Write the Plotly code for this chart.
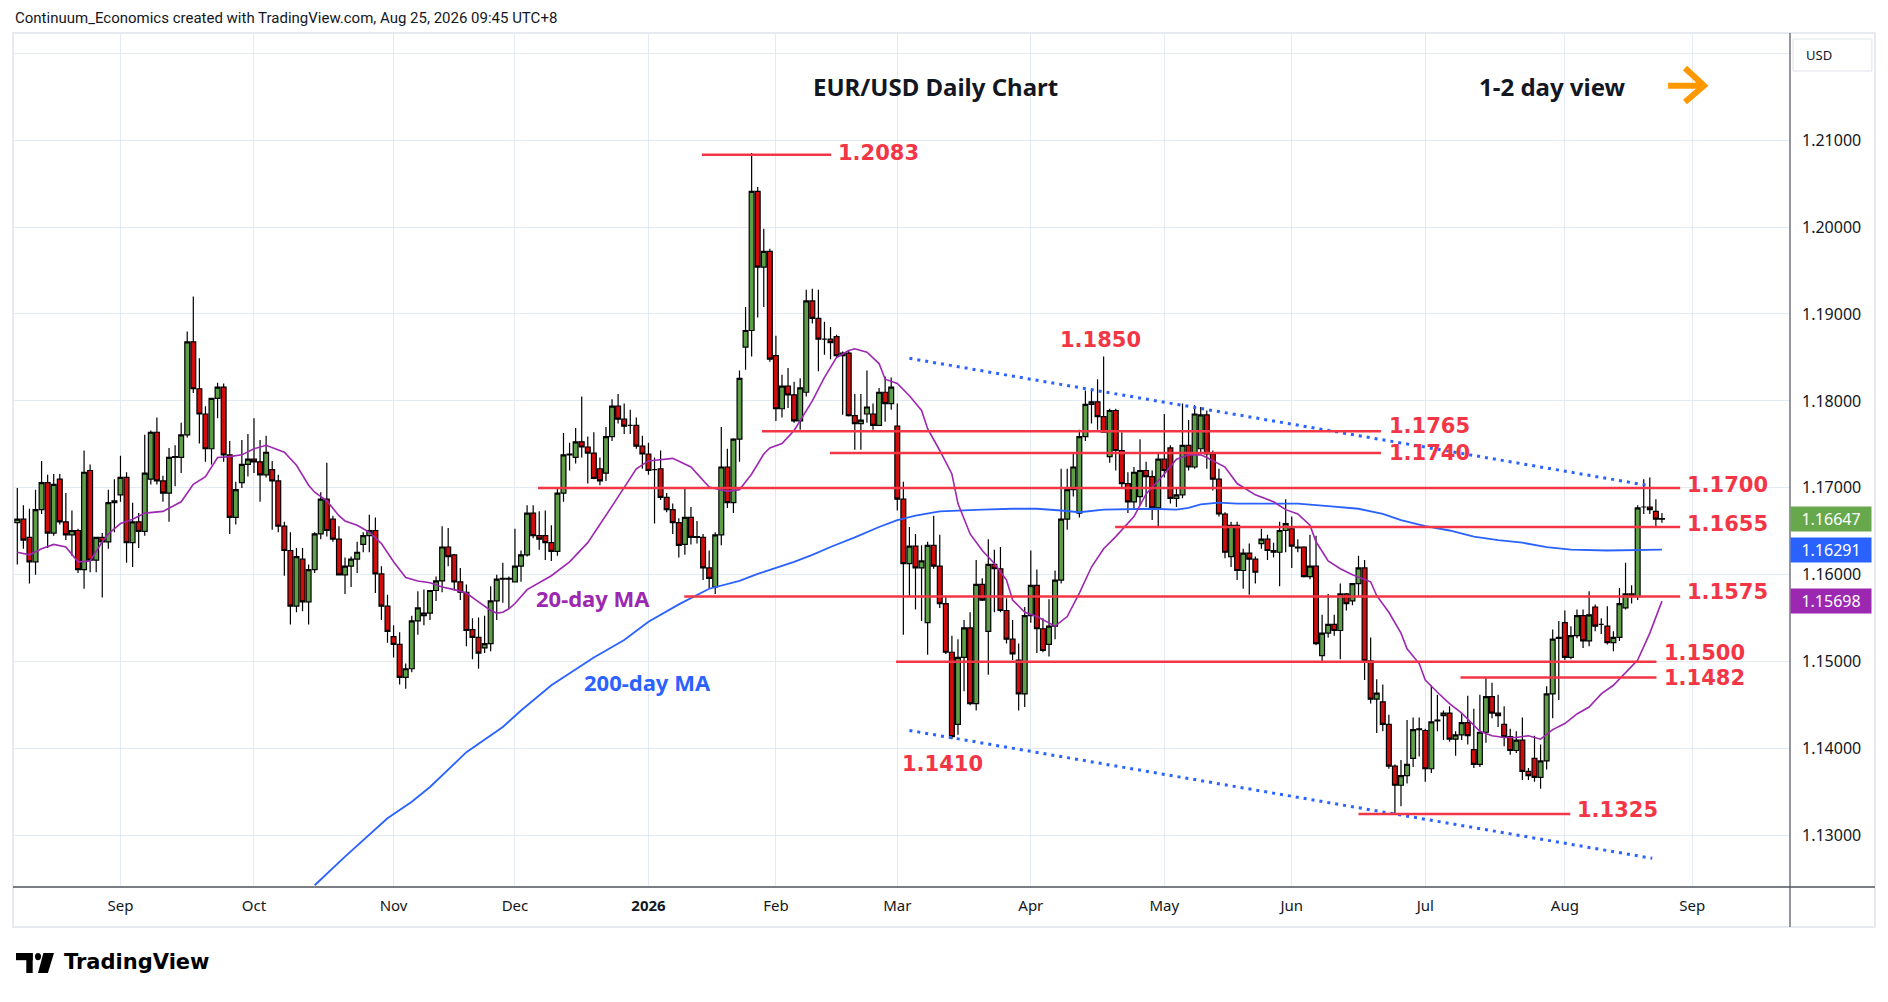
import pandas as pd
import plotly.graph_objects as go

# FX trading days on the chart (no bars on these two)
HOLIDAYS = ["2025-12-25", "2026-01-01"]
all_days = pd.bdate_range("2025-08-07", "2026-09-30", freq="C", holidays=HOLIDAYS)

# EUR/USD daily candles, Aug 7 2025 .. Aug 25 2026
opens = [
    1.1660, 1.1664, 1.1643, 1.1615, 1.1675, 1.1706, 1.1648, 1.1710, 1.1661, 1.1646,
    1.1651, 1.1606, 1.1720, 1.1617, 1.1643, 1.1638, 1.1683, 1.1692, 1.1712, 1.1637,
    1.1661, 1.1650, 1.1710, 1.1764, 1.1708, 1.1694, 1.1735, 1.1735, 1.1761, 1.1868,
    1.1814, 1.1785, 1.1745, 1.1803, 1.1816, 1.1738, 1.1666, 1.1706, 1.1727, 1.1733,
    1.1730, 1.1715, 1.1721, 1.1708, 1.1656, 1.1628, 1.1564, 1.1618, 1.1569, 1.1606,
    1.1647, 1.1687, 1.1664, 1.1641, 1.1600, 1.1610, 1.1618, 1.1635, 1.1645, 1.1651,
    1.1601, 1.1564, 1.1529, 1.1520, 1.1482, 1.1492, 1.1547, 1.1553, 1.1556, 1.1582,
    1.1593, 1.1632, 1.1623, 1.1592, 1.1580, 1.1537, 1.1528, 1.1516, 1.1521, 1.1570,
    1.1595, 1.1596, 1.1592, 1.1610, 1.1623, 1.1671, 1.1645, 1.1645, 1.1637, 1.1627,
    1.1694, 1.1738, 1.1735, 1.1753, 1.1747, 1.1740, 1.1722, 1.1717, 1.1759, 1.1794,
    1.1779, 1.1772, 1.1772, 1.1748, 1.1739, 1.1721, 1.1722, 1.1689, 1.1675, 1.1660,
    1.1635, 1.1666, 1.1644, 1.1643, 1.1608, 1.1586, 1.1646, 1.1724, 1.1683, 1.1756,
    1.1862, 1.1881, 1.2041, 1.1954, 1.1972, 1.1852, 1.1791, 1.1817, 1.1807, 1.1777,
    1.1810, 1.1915, 1.1895, 1.1871, 1.1871, 1.1874, 1.1852, 1.1855, 1.1783, 1.1774,
    1.1785, 1.1785, 1.1772, 1.1810, 1.1797, 1.1771, 1.1687, 1.1613, 1.1633, 1.1608,
    1.1545, 1.1634, 1.1610, 1.1567, 1.1511, 1.1428, 1.1505, 1.1539, 1.1452, 1.1589,
    1.1535, 1.1612, 1.1607, 1.1559, 1.1526, 1.1502, 1.1463, 1.1553, 1.1588, 1.1538,
    1.1520, 1.1541, 1.1594, 1.1664, 1.1698, 1.1671, 1.1759, 1.1796, 1.1799, 1.1782,
    1.1736, 1.1789, 1.1743, 1.1705, 1.1684, 1.1690, 1.1720, 1.1713, 1.1677, 1.1733,
    1.1746, 1.1688, 1.1692, 1.1749, 1.1724, 1.1745, 1.1784, 1.1739, 1.1710, 1.1670,
    1.1621, 1.1657, 1.1605, 1.1625, 1.1618, 1.1636, 1.1641, 1.1628, 1.1626, 1.1651,
    1.1653, 1.1632, 1.1632, 1.1598, 1.1610, 1.1507, 1.1533, 1.1543, 1.1536, 1.1578,
    1.1570, 1.1590, 1.1608, 1.1501, 1.1457, 1.1454, 1.1428, 1.1380, 1.1358, 1.1369,
    1.1389, 1.1422, 1.1421, 1.1377, 1.1432, 1.1438, 1.1441, 1.1411, 1.1416, 1.1430,
    1.1399, 1.1382, 1.1419, 1.1460, 1.1441, 1.1428, 1.1414, 1.1398, 1.1410, 1.1374,
    1.1389, 1.1367, 1.1386, 1.1463, 1.1527, 1.1545, 1.1505, 1.1530, 1.1553, 1.1524,
    1.1563, 1.1543, 1.1541, 1.1522, 1.1528, 1.1562, 1.1578, 1.1575, 1.1678, 1.1678,
    1.1673, 1.1664,
]
highs = [
    1.1700, 1.1680, 1.1676, 1.1698, 1.1731, 1.1715, 1.1716, 1.1716, 1.1694, 1.1674,
    1.1653, 1.1743, 1.1727, 1.1643, 1.1648, 1.1698, 1.1710, 1.1737, 1.1718, 1.1683,
    1.1671, 1.1761, 1.1766, 1.1781, 1.1714, 1.1746, 1.1749, 1.1775, 1.1880, 1.1920,
    1.1849, 1.1794, 1.1803, 1.1821, 1.1820, 1.1754, 1.1707, 1.1755, 1.1762, 1.1780,
    1.1755, 1.1760, 1.1731, 1.1715, 1.1661, 1.1649, 1.1631, 1.1631, 1.1612, 1.1649,
    1.1695, 1.1729, 1.1668, 1.1656, 1.1620, 1.1621, 1.1638, 1.1649, 1.1669, 1.1666,
    1.1610, 1.1577, 1.1542, 1.1534, 1.1498, 1.1553, 1.1581, 1.1583, 1.1582, 1.1598,
    1.1656, 1.1654, 1.1624, 1.1608, 1.1589, 1.1550, 1.1551, 1.1553, 1.1587, 1.1600,
    1.1614, 1.1598, 1.1653, 1.1628, 1.1680, 1.1680, 1.1673, 1.1674, 1.1657, 1.1699,
    1.1763, 1.1752, 1.1769, 1.1805, 1.1759, 1.1764, 1.1735, 1.1770, 1.1802, 1.1808,
    1.1797, 1.1790, 1.1781, 1.1760, 1.1752, 1.1735, 1.1743, 1.1694, 1.1682, 1.1665,
    1.1700, 1.1678, 1.1662, 1.1647, 1.1628, 1.1649, 1.1770, 1.1745, 1.1757, 1.1835,
    1.1908, 1.2085, 1.2046, 1.1998, 1.1975, 1.1875, 1.1830, 1.1838, 1.1822, 1.1826,
    1.1928, 1.1929, 1.1928, 1.1891, 1.1885, 1.1876, 1.1857, 1.1858, 1.1808, 1.1808,
    1.1835, 1.1797, 1.1815, 1.1828, 1.1827, 1.1797, 1.1707, 1.1655, 1.1647, 1.1634,
    1.1638, 1.1668, 1.1646, 1.1575, 1.1530, 1.1526, 1.1548, 1.1557, 1.1617, 1.1596,
    1.1641, 1.1629, 1.1632, 1.1573, 1.1548, 1.1521, 1.1563, 1.1628, 1.1606, 1.1550,
    1.1572, 1.1605, 1.1722, 1.1722, 1.1740, 1.1767, 1.1812, 1.1812, 1.1825, 1.1851,
    1.1791, 1.1791, 1.1764, 1.1718, 1.1724, 1.1756, 1.1730, 1.1720, 1.1741, 1.1785,
    1.1749, 1.1700, 1.1797, 1.1778, 1.1795, 1.1793, 1.1789, 1.1743, 1.1722, 1.1672,
    1.1661, 1.1661, 1.1630, 1.1636, 1.1621, 1.1653, 1.1646, 1.1637, 1.1661, 1.1687,
    1.1667, 1.1641, 1.1633, 1.1646, 1.1645, 1.1554, 1.1578, 1.1554, 1.1590, 1.1579,
    1.1590, 1.1622, 1.1617, 1.1528, 1.1480, 1.1474, 1.1439, 1.1382, 1.1387, 1.1433,
    1.1436, 1.1436, 1.1423, 1.1473, 1.1462, 1.1444, 1.1449, 1.1420, 1.1440, 1.1461,
    1.1446, 1.1462, 1.1482, 1.1476, 1.1462, 1.1449, 1.1423, 1.1420, 1.1436, 1.1378,
    1.1415, 1.1405, 1.1472, 1.1537, 1.1547, 1.1559, 1.1541, 1.1560, 1.1560, 1.1581,
    1.1566, 1.1550, 1.1564, 1.1535, 1.1585, 1.1614, 1.1588, 1.1680, 1.1710, 1.1712,
    1.1687, 1.1671,
]
lows = [
    1.1612, 1.1630, 1.1590, 1.1600, 1.1670, 1.1631, 1.1645, 1.1658, 1.1640, 1.1622,
    1.1602, 1.1584, 1.1603, 1.1603, 1.1574, 1.1630, 1.1649, 1.1684, 1.1614, 1.1609,
    1.1631, 1.1645, 1.1704, 1.1704, 1.1684, 1.1661, 1.1702, 1.1717, 1.1758, 1.1809,
    1.1751, 1.1730, 1.1727, 1.1780, 1.1730, 1.1647, 1.1658, 1.1700, 1.1713, 1.1717,
    1.1684, 1.1712, 1.1652, 1.1649, 1.1599, 1.1543, 1.1557, 1.1558, 1.1543, 1.1602,
    1.1641, 1.1644, 1.1638, 1.1600, 1.1578, 1.1586, 1.1602, 1.1626, 1.1626, 1.1579,
    1.1548, 1.1522, 1.1505, 1.1474, 1.1469, 1.1488, 1.1531, 1.1542, 1.1548, 1.1570,
    1.1580, 1.1610, 1.1582, 1.1571, 1.1518, 1.1503, 1.1492, 1.1510, 1.1512, 1.1548,
    1.1568, 1.1561, 1.1592, 1.1592, 1.1621, 1.1642, 1.1629, 1.1617, 1.1616, 1.1622,
    1.1684, 1.1720, 1.1728, 1.1735, 1.1705, 1.1710, 1.1703, 1.1708, 1.1754, 1.1774,
    1.1762, 1.1762, 1.1745, 1.1722, 1.1715, 1.1659, 1.1686, 1.1672, 1.1647, 1.1620,
    1.1623, 1.1635, 1.1636, 1.1594, 1.1585, 1.1578, 1.1634, 1.1677, 1.1671, 1.1730,
    1.1836, 1.1851, 1.1896, 1.1908, 1.1845, 1.1777, 1.1781, 1.1792, 1.1775, 1.1767,
    1.1805, 1.1889, 1.1834, 1.1853, 1.1848, 1.1850, 1.1784, 1.1782, 1.1744, 1.1744,
    1.1775, 1.1767, 1.1772, 1.1776, 1.1790, 1.1674, 1.1531, 1.1576, 1.1560, 1.1547,
    1.1508, 1.1607, 1.1562, 1.1509, 1.1411, 1.1416, 1.1466, 1.1450, 1.1444, 1.1570,
    1.1485, 1.1557, 1.1557, 1.1521, 1.1502, 1.1444, 1.1448, 1.1545, 1.1510, 1.1511,
    1.1506, 1.1526, 1.1590, 1.1652, 1.1690, 1.1666, 1.1754, 1.1774, 1.1767, 1.1764,
    1.1729, 1.1720, 1.1700, 1.1671, 1.1676, 1.1680, 1.1678, 1.1663, 1.1656, 1.1712,
    1.1682, 1.1678, 1.1688, 1.1720, 1.1722, 1.1740, 1.1722, 1.1697, 1.1667, 1.1619,
    1.1609, 1.1594, 1.1584, 1.1577, 1.1590, 1.1630, 1.1617, 1.1620, 1.1587, 1.1626,
    1.1608, 1.1626, 1.1597, 1.1595, 1.1519, 1.1501, 1.1528, 1.1530, 1.1503, 1.1559,
    1.1565, 1.1576, 1.1479, 1.1452, 1.1418, 1.1420, 1.1377, 1.1325, 1.1334, 1.1360,
    1.1379, 1.1391, 1.1362, 1.1372, 1.1420, 1.1410, 1.1408, 1.1392, 1.1410, 1.1405,
    1.1378, 1.1379, 1.1407, 1.1435, 1.1425, 1.1403, 1.1393, 1.1395, 1.1364, 1.1364,
    1.1362, 1.1354, 1.1376, 1.1435, 1.1456, 1.1502, 1.1503, 1.1527, 1.1516, 1.1518,
    1.1535, 1.1532, 1.1520, 1.1512, 1.1524, 1.1560, 1.1567, 1.1571, 1.1670, 1.1670,
    1.1656, 1.1660,
]
closes = [
    1.1664, 1.1640, 1.1615, 1.1675, 1.1706, 1.1648, 1.1704, 1.1661, 1.1646, 1.1651,
    1.1606, 1.1718, 1.1617, 1.1643, 1.1638, 1.1683, 1.1685, 1.1712, 1.1637, 1.1661,
    1.1650, 1.1717, 1.1764, 1.1708, 1.1694, 1.1735, 1.1736, 1.1761, 1.1868, 1.1814,
    1.1785, 1.1745, 1.1803, 1.1816, 1.1738, 1.1666, 1.1698, 1.1727, 1.1733, 1.1730,
    1.1715, 1.1741, 1.1708, 1.1656, 1.1628, 1.1564, 1.1621, 1.1569, 1.1606, 1.1647,
    1.1687, 1.1651, 1.1641, 1.1600, 1.1610, 1.1618, 1.1626, 1.1645, 1.1651, 1.1601,
    1.1564, 1.1535, 1.1520, 1.1482, 1.1492, 1.1547, 1.1562, 1.1556, 1.1582, 1.1593,
    1.1632, 1.1621, 1.1592, 1.1580, 1.1536, 1.1528, 1.1510, 1.1521, 1.1570, 1.1595,
    1.1596, 1.1595, 1.1610, 1.1623, 1.1671, 1.1645, 1.1641, 1.1637, 1.1627, 1.1694,
    1.1738, 1.1739, 1.1753, 1.1747, 1.1740, 1.1711, 1.1708, 1.1759, 1.1794, 1.1779,
    1.1771, 1.1772, 1.1748, 1.1739, 1.1720, 1.1721, 1.1689, 1.1675, 1.1660, 1.1634,
    1.1666, 1.1643, 1.1643, 1.1608, 1.1596, 1.1646, 1.1724, 1.1683, 1.1756, 1.1826,
    1.1881, 1.2041, 1.1954, 1.1972, 1.1848, 1.1791, 1.1817, 1.1807, 1.1777, 1.1815,
    1.1915, 1.1895, 1.1871, 1.1871, 1.1867, 1.1852, 1.1855, 1.1783, 1.1774, 1.1778,
    1.1793, 1.1772, 1.1810, 1.1797, 1.1816, 1.1687, 1.1613, 1.1633, 1.1608, 1.1616,
    1.1634, 1.1610, 1.1567, 1.1511, 1.1414, 1.1505, 1.1539, 1.1452, 1.1589, 1.1571,
    1.1612, 1.1607, 1.1559, 1.1526, 1.1509, 1.1463, 1.1553, 1.1588, 1.1538, 1.1513,
    1.1541, 1.1594, 1.1664, 1.1698, 1.1724, 1.1759, 1.1796, 1.1799, 1.1782, 1.1764,
    1.1789, 1.1743, 1.1705, 1.1684, 1.1718, 1.1720, 1.1713, 1.1677, 1.1733, 1.1720,
    1.1688, 1.1692, 1.1749, 1.1724, 1.1785, 1.1784, 1.1739, 1.1710, 1.1670, 1.1626,
    1.1657, 1.1605, 1.1625, 1.1618, 1.1603, 1.1641, 1.1628, 1.1626, 1.1651, 1.1659,
    1.1633, 1.1631, 1.1598, 1.1610, 1.1521, 1.1533, 1.1543, 1.1536, 1.1578, 1.1567,
    1.1590, 1.1608, 1.1501, 1.1457, 1.1464, 1.1428, 1.1380, 1.1358, 1.1369, 1.1382,
    1.1422, 1.1423, 1.1377, 1.1431, 1.1433, 1.1441, 1.1411, 1.1416, 1.1430, 1.1415,
    1.1382, 1.1419, 1.1460, 1.1441, 1.1438, 1.1414, 1.1398, 1.1410, 1.1374, 1.1369,
    1.1367, 1.1386, 1.1463, 1.1526, 1.1528, 1.1505, 1.1530, 1.1553, 1.1524, 1.1554,
    1.1541, 1.1543, 1.1522, 1.1528, 1.1567, 1.1578, 1.1575, 1.1677, 1.1678, 1.1675,
    1.1664, 1.16647,
]

# moving averages sampled off the chart: (bar number, value)
ma20_points = [
    (0, 1.1626), (2, 1.1623), (4, 1.1630), (6, 1.1635), (8, 1.1632), (10, 1.1615),
    (12, 1.1616), (14, 1.1638), (15, 1.1647), (17, 1.1659), (19, 1.1664), (21, 1.1671),
    (24, 1.1673), (26, 1.1680), (27, 1.1684), (29, 1.1704), (31, 1.1713), (33, 1.1735),
    (35, 1.1736), (37, 1.1738), (39, 1.1745), (41, 1.1749), (44, 1.1741), (46, 1.1726),
    (48, 1.1703), (49, 1.1695), (51, 1.1685), (53, 1.1668), (54, 1.1662), (56, 1.1657),
    (58, 1.1649), (60, 1.1636), (62, 1.1615), (64, 1.1597), (66, 1.1593), (68, 1.1591),
    (70, 1.1586), (72, 1.1583), (74, 1.1579), (76, 1.1569), (78, 1.1559), (79, 1.1556),
    (80, 1.1557), (81, 1.1561), (82, 1.1567), (84, 1.1583), (88, 1.1599), (91, 1.1615),
    (94, 1.1637), (98, 1.1679), (100, 1.1701), (102, 1.1722), (104, 1.1731), (108, 1.1734),
    (111, 1.1724), (114, 1.1701), (117, 1.1696), (119, 1.1698), (121, 1.1716), (123, 1.1739),
    (124, 1.1746), (126, 1.1751), (128, 1.1766), (131, 1.1800), (133, 1.1827), (135, 1.1850),
    (137, 1.1858), (138, 1.1860), (140, 1.1856), (142, 1.1843), (143, 1.1825), (145, 1.1820),
    (147, 1.1806), (149, 1.1789), (150, 1.1768), (152, 1.1743), (154, 1.1716), (155, 1.1682),
    (157, 1.1647), (159, 1.1628), (161, 1.1613), (163, 1.1594), (164, 1.1571), (166, 1.1557),
    (168, 1.1552), (170, 1.1545), (171, 1.1541), (173, 1.1552), (175, 1.1579), (177, 1.1609),
    (179, 1.1630), (181, 1.1644), (184, 1.1667), (186, 1.1693), (189, 1.1716), (191, 1.1733),
    (193, 1.1738), (195, 1.1738), (196, 1.1735), (199, 1.1724), (201, 1.1705), (204, 1.1692),
    (207, 1.1684), (209, 1.1675), (211, 1.1670), (213, 1.1657), (214, 1.1638), (216, 1.1616),
    (218, 1.1607), (220, 1.1600), (223, 1.1592), (224, 1.1576), (226, 1.1557), (228, 1.1533),
    (229, 1.1515), (231, 1.1498), (232, 1.1479), (234, 1.1465), (236, 1.1452), (238, 1.1441),
    (241, 1.1420), (243, 1.1415), (245, 1.1413), (247, 1.1413), (249, 1.1415), (251, 1.1411),
    (253, 1.1422), (255, 1.1429), (257, 1.1440), (259, 1.1448), (261, 1.1463), (263, 1.1473),
    (264, 1.1480), (267, 1.1502), (269, 1.1533), (271, 1.15698),
]
ma200_points = [
    (49, 1.1243), (54, 1.1276), (61, 1.1320), (65, 1.1339), (68, 1.1356), (74, 1.1396),
    (80, 1.1425), (83, 1.1444), (88, 1.1473), (95, 1.1505), (100, 1.1525), (104, 1.1546),
    (109, 1.1566), (114, 1.1584), (119, 1.1593), (122, 1.1601), (125, 1.1608), (128, 1.1615),
    (131, 1.1623), (134, 1.1632), (138, 1.1643), (142, 1.1655), (145, 1.1663), (148, 1.1668),
    (152, 1.1673), (155, 1.1674), (159, 1.1675), (164, 1.1676), (168, 1.1676), (172, 1.1674),
    (175, 1.1672), (179, 1.1675), (184, 1.1676), (187, 1.1676), (191, 1.1675), (193, 1.1677),
    (195, 1.1681), (198, 1.1683), (201, 1.1682), (205, 1.1682), (211, 1.1682), (216, 1.1679),
    (221, 1.1676), (225, 1.1670), (228, 1.1663), (232, 1.1656), (236, 1.1651), (240, 1.1644),
    (244, 1.1640), (248, 1.1637), (252, 1.1632), (256, 1.1629), (262, 1.1628), (271, 1.16291),
]

# channel lines (bar number, price) at both ends
upper_channel_x = [147, 268.5]
upper_channel_y = [1.1849, 1.1703]
lower_channel_x = [147, 269.4]
lower_channel_y = [1.1421, 1.1274]

# support / resistance levels
level_vals = [1.2083, 1.1765, 1.1740, 1.1700, 1.1655, 1.1575, 1.1500, 1.1482, 1.1325]
swing_labels = ["1.1850", "1.1410"]

ytick_vals = [1.13, 1.14, 1.15, 1.16, 1.17, 1.18, 1.19, 1.20, 1.21, 1.22]
ytick_text = ["1.13000", "1.14000", "1.15000", "1.16000", "1.17000",
              "1.18000", "1.19000", "1.20000", "1.21000", ""]

assert len(opens) == len(highs) == len(lows) == len(closes)
dates = all_days[:len(closes)]
bars = list(range(len(closes)))

# month ticks at the first trading day of each month
day_pos = pd.Series(range(len(all_days)), index=all_days)
firsts = day_pos.groupby([all_days.year, all_days.month]).min()
tick_pos, tick_txt = [], []
for (yr, mo), pos in firsts.items():
    if pos == 0:
        continue
    tick_pos.append(int(pos))
    tick_txt.append(f"<b>{yr}</b>" if mo == 1 else all_days[pos].strftime("%b"))

TXT = "#131722"
GRID = "#e4eaf1"
RED = "#f23645"
BLUE = "#2962ff"
PURPLE = "#9c27b0"

# layout positions (bar number) for level lines and their labels
level_spans = [(112.8, 134.1), (122.7, 224.7), (133.9, 224.7), (85.8, 274.0), (180.9, 274.0),
               (109.9, 274.0), (144.8, 270.1), (237.8, 270.1), (221.0, 255.9)]
level_label_at = [(134.9, 1.2085), (225.7, 1.1771), (225.7, 1.1740), (274.8, 1.1703), (274.8, 1.1659),
                  (274.8, 1.1580), (271.0, 1.1510), (271.0, 1.1481), (256.7, 1.1329)]
swing_label_at = [(178.5, 1.1870), (152.5, 1.1382)]

fig = go.Figure()

fig.add_trace(go.Candlestick(
    x=bars, open=opens, high=highs, low=lows, close=closes,
    hovertext=[d.strftime("%Y-%m-%d") for d in dates],
    increasing=dict(fillcolor="#5f9e48", line=dict(color="#000000", width=1.2)),
    decreasing=dict(fillcolor="#d00d0d", line=dict(color="#000000", width=1.2)),
    whiskerwidth=0,
))

ma20_x, ma20_y = zip(*ma20_points)
ma200_x, ma200_y = zip(*ma200_points)
fig.add_trace(go.Scatter(x=ma200_x, y=ma200_y, mode="lines",
                         line=dict(color=BLUE, width=1.8), hoverinfo="skip"))
fig.add_trace(go.Scatter(x=ma20_x, y=ma20_y, mode="lines",
                         line=dict(color=PURPLE, width=1.6), hoverinfo="skip"))

for cx, cy in [(upper_channel_x, upper_channel_y), (lower_channel_x, lower_channel_y)]:
    fig.add_trace(go.Scatter(x=cx, y=cy, mode="lines",
                             line=dict(color=BLUE, width=3, dash="3px,5px"), hoverinfo="skip"))

shapes = []
annotations = []

for val, (x0, x1), (lx, ly) in zip(level_vals, level_spans, level_label_at):
    shapes.append(dict(type="line", xref="x", yref="y", x0=x0, x1=x1, y0=val, y1=val,
                       line=dict(color=RED, width=2.5)))
    annotations.append(dict(x=lx, y=ly, xref="x", yref="y", text=f"{val:.4f}",
                            xanchor="left", yanchor="middle", showarrow=False,
                            font=dict(family="DejaVu Sans", size=21, color=RED, weight="bold")))

for txt, (lx, ly) in zip(swing_labels, swing_label_at):
    annotations.append(dict(x=lx, y=ly, xref="x", yref="y", text=txt,
                            xanchor="center", yanchor="middle", showarrow=False,
                            font=dict(family="DejaVu Sans", size=21, color=RED, weight="bold")))

annotations += [
    dict(x=94.8, y=1.1573, xref="x", yref="y", text="<b>20-day MA</b>", showarrow=False,
         xanchor="center", yanchor="middle",
         font=dict(family="Noto Sans", size=22, color=PURPLE)),
    dict(x=103.8, y=1.1477, xref="x", yref="y", text="<b>200-day MA</b>", showarrow=False,
         xanchor="center", yanchor="middle",
         font=dict(family="Noto Sans", size=22, color=BLUE)),
    dict(x=0.519, y=0.938, xref="paper", yref="paper", text="<b>EUR/USD Daily Chart</b>",
         xanchor="center", yanchor="middle",
         showarrow=False, font=dict(family="Noto Sans", size=24, color=TXT)),
    dict(x=0.8666, y=0.938, xref="paper", yref="paper", text="<b>1-2 day view</b>",
         xanchor="center", yanchor="middle",
         showarrow=False, font=dict(family="Noto Sans", size=24, color=TXT)),
    dict(x=0, y=1.0188, xref="paper", yref="paper", xanchor="left", yanchor="middle",
         text="Continuum_Economics created with TradingView.com, Aug 25, 2026 09:45 UTC+8",
         showarrow=False, font=dict(family="Roboto", size=15, color=TXT)),
    dict(x=1.0079, y=0.9754, xref="paper", yref="paper", xanchor="left", yanchor="middle",
         text="USD", showarrow=False, font=dict(family="Noto Sans", size=13, color=TXT)),
    dict(x=0.0276, y=-0.0885, xref="paper", yref="paper", xanchor="left", yanchor="middle",
         text="<b>TradingView</b>", showarrow=False,
         font=dict(family="DejaVu Sans", size=21, color="#000")),
]

# last-value tags on the price scale
for val, col in [(closes[-1], "#68a84c"), (ma200_y[-1], BLUE), (ma20_y[-1], PURPLE)]:
    annotations.append(dict(x=1.0, y=val, xref="paper", yref="y", xanchor="left", yanchor="middle",
                            text=f"{val:.5f}", showarrow=False, bgcolor=col, width=76, height=20,
                            borderpad=2, font=dict(family="Noto Sans", size=16, color="white")))

shapes += [
    # chart frame, price-scale separator, time axis line
    dict(type="rect", xref="paper", yref="paper", x0=0, x1=1.0478, y0=-0.0469, y1=1.0012,
         line=dict(color="#e0e3eb", width=1.5), layer="below"),
    dict(type="line", xref="paper", yref="paper", x0=1.0, x1=1.0, y0=-0.0469, y1=1.0012,
         line=dict(color="#50535e", width=1.2)),
    dict(type="line", xref="paper", yref="paper", x0=0, x1=1.0478, y0=0, y1=0,
         line=dict(color="#50535e", width=1.6)),
    dict(type="rect", xref="paper", yref="paper", x0=1.0017, x1=1.0461, y0=0.9566, y1=0.9941,
         line=dict(color="#e0e3eb", width=1)),
    # orange arrow next to the view text
    dict(type="path", xref="paper", yref="paper",
         path="M 0.9314,0.9394 L 0.9510,0.9394 M 0.9409,0.9601 L 0.9516,0.9394 L 0.9409,0.9203",
         line=dict(color="#ff9800", width=6)),
    # TradingView mark: bar, stem, dot and slash
    dict(type="rect", xref="paper", yref="paper", x0=0.00169, x1=0.01108, y0=-0.08582, y1=-0.07737,
         fillcolor="#000", line=dict(width=0)),
    dict(type="rect", xref="paper", yref="paper", x0=0.00748, x1=0.01108, y0=-0.10082, y1=-0.07737,
         fillcolor="#000", line=dict(width=0)),
    dict(type="circle", xref="paper", yref="paper", x0=0.01238, x1=0.01576, y0=-0.08582, y1=-0.07737,
         fillcolor="#000", line=dict(width=0)),
    dict(type="path", xref="paper", yref="paper",
         path="M 0.01711,-0.07737 L 0.02307,-0.07737 L 0.01964,-0.10082 L 0.01407,-0.10082 Z",
         fillcolor="#000", line=dict(width=0)),
]

fig.update_layout(
    width=1888, height=1002,
    margin=dict(l=13, r=98, t=34, b=115, autoexpand=False),
    paper_bgcolor="white", plot_bgcolor="white",
    showlegend=False, hovermode=False,
    boxgap=0.2, boxgroupgap=0.0,
    shapes=shapes, annotations=annotations,
    xaxis=dict(range=[-0.71, 292.1], tickmode="array", tickvals=tick_pos, ticktext=tick_txt,
               showgrid=True, gridcolor=GRID, gridwidth=1, zeroline=False, showline=False,
               ticks="", ticklabelstandoff=8, rangeslider=dict(visible=False),
               tickfont=dict(family="Noto Sans", size=15, color=TXT)),
    yaxis=dict(side="right", range=[1.1241, 1.2222], tickmode="array",
               tickvals=ytick_vals, ticktext=ytick_text,
               showgrid=True, gridcolor=GRID, gridwidth=1, zeroline=False, showline=False,
               ticks="", ticklabelstandoff=11,
               tickfont=dict(family="Noto Sans", size=16, color=TXT)),
)

fig.write_html("out.html", config={"displayModeBar": False},
               post_script="document.body.style.margin='0';document.body.style.overflow='hidden';")
